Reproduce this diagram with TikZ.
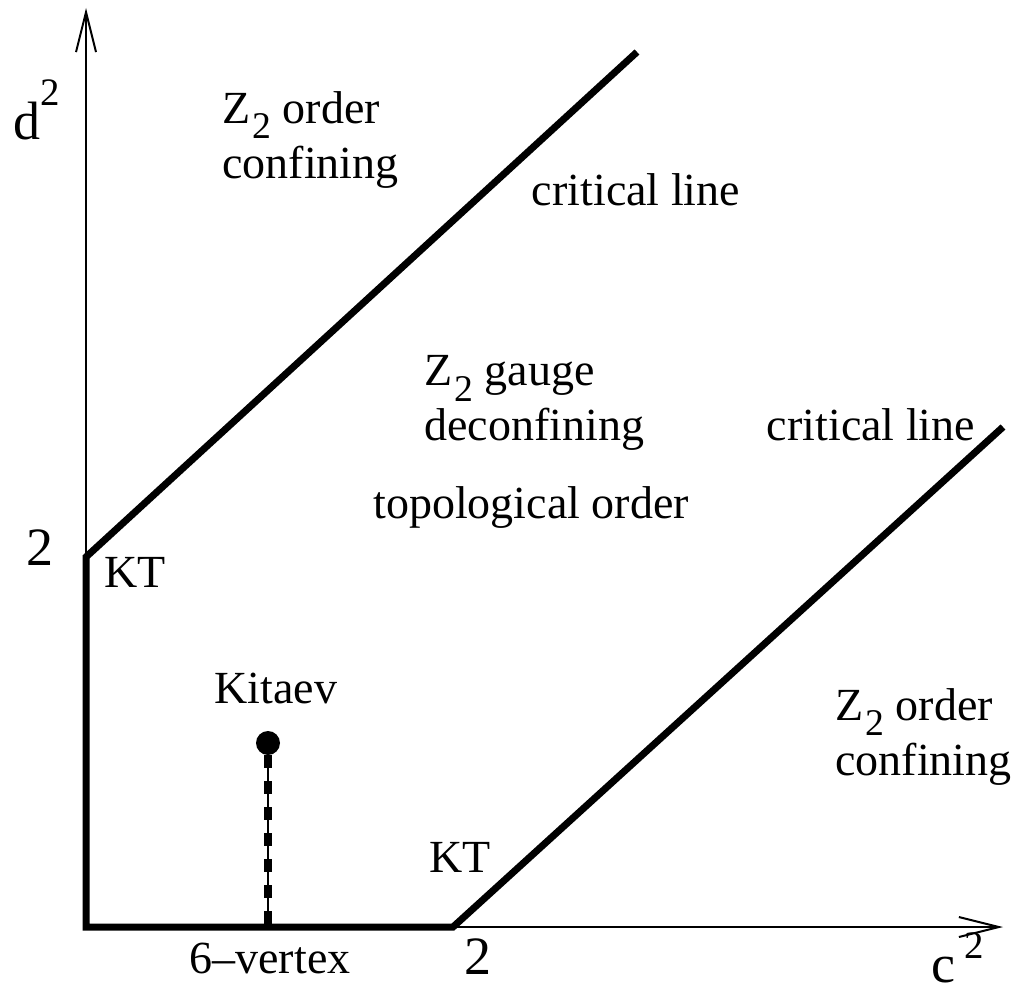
\documentclass[tikz,border=0pt]{standalone}
\usepackage{fontspec}
\setmainfont{Liberation Serif}
\usepackage{graphicx}
\usetikzlibrary{arrows.meta, positioning}

\newcommand{\Zsub}{Z\kern1pt\raisebox{-0.34em}{\scalebox{0.82}{2}}}
\newcommand{\sq}[1]{\raisebox{#1}{\scalebox{0.72}{2}}}

\begin{document}
\begin{tikzpicture}[
    x=0.5pt, y=-0.5pt,
    txt/.style={font=\fontsize{23}{27.5}\selectfont, align=left, inner sep=0pt},
    axlbl/.style={font=\fontsize{27}{31}\selectfont, inner sep=0pt},
    axis/.style={line width=1pt, -{Straight Barb[length=20pt, width=10pt, line width=1pt]}},
    phase/.style={line width=3.5pt, line join=miter},
    kdash/.style={line width=4pt, dash pattern=on 6.5pt off 6.5pt}
]
\useasboundingbox (0,0) rectangle (1014,985);

% axes
\coordinate (O) at (86,927);
\coordinate (ytop) at (86,8);
\coordinate (xend) at (1003,927);
\draw[axis] (O) -- (ytop);
\draw[axis] (O) -- (xend);

% phase boundaries
\coordinate (kt1) at (86,557);
\coordinate (top) at (637,52);
\coordinate (kt2) at (453,927);
\coordinate (right) at (1003,427);
\draw[phase] (top) -- (kt1) -- (O) -- (kt2) -- (right);

% Kitaev point
\node[circle, fill, inner sep=0pt, minimum size=12pt] (kit) at (268,743) {};
\coordinate (kitb) at (268,927);
\draw[line width=0.8pt] (kit) -- (kitb);
\draw[kdash] (kit.south) -- (kitb);

% axis labels
\node[axlbl] (dlab) at (37,110) {d\sq{0.62em}};
\node[axlbl] (clab) at (958,958) {c\,\sq{0.45em}};
\node[axlbl] (ytwo) at (40,548) {2};
\node[axlbl] (xtwo) at (478,957) {2};

% region labels
\node[txt, anchor=north west] (conf1) at (222,91) {\Zsub{} order\\confining};
\node[txt] (crit1) at (636,190) {critical line};
\node[txt, anchor=north west] (gauge) at (424,355) {\Zsub{} gauge\\deconfining};
\node[txt] (topo) at (531,508) {topological order};
\node[txt] (crit2) at (871,425) {critical line};
\node[txt, anchor=north west] (conf2) at (835,688) {\Zsub{} order\\confining};
\node[txt] (kitlab) at (276,688) {Kitaev};
\node[txt] (kta) at (135,572) {KT};
\node[txt] (ktb) at (460,857) {KT};
\node[txt] (sixv) at (270,958) {6--vertex};
\end{tikzpicture}
\end{document}
